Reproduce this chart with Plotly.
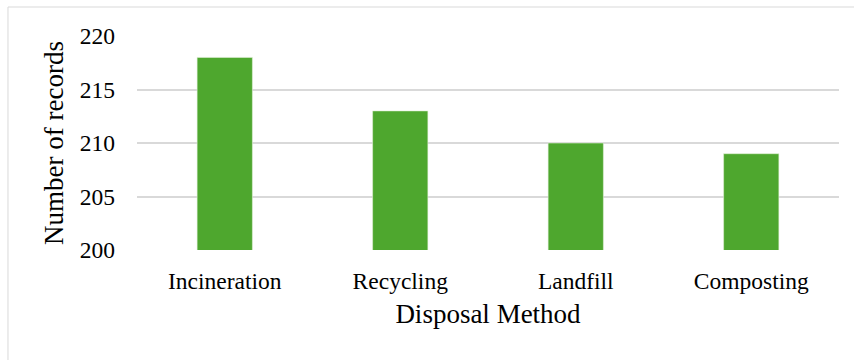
import plotly.graph_objects as go

# Records per disposal method
methods = ["Incineration", "Recycling", "Landfill", "Composting"]
records = [218, 213, 210, 209]
y_ticks = [200, 205, 210, 215, 220]

FONT = "Liberation Serif, Times New Roman, serif"

fig = go.Figure(
    go.Bar(
        x=methods,
        y=records,
        marker=dict(color="#4EA72E", line=dict(color="#E2F0D9", width=0.6)),
        width=0.315,
    )
)

fig.update_layout(
    width=854,
    height=360,
    margin=dict(l=137, r=15, t=36, b=110),
    paper_bgcolor="white",
    plot_bgcolor="white",
    showlegend=False,
    font=dict(family=FONT, color="#000000", size=23.5),
    bargap=0.685,
    shapes=[
        dict(
            type="rect", xref="paper", yref="paper",
            x0=-0.1838, x1=1.5, y0=-1.0, y1=1.1355,
            line=dict(color="#D9D9D9", width=1), fillcolor="rgba(0,0,0,0)",
            layer="below",
        )
    ],
)

fig.update_yaxes(
    range=[200, 220],
    tickvals=y_ticks,
    showgrid=True,
    gridcolor="#D9D9D9",
    gridwidth=1.5,
    zeroline=False,
    showline=False,
    ticks="",
    ticklabelstandoff=21,
    tickfont=dict(size=23.5, family=FONT),
    title=dict(text="Number of records", font=dict(size=27, family=FONT), standoff=8),
)

fig.update_xaxes(
    showgrid=False,
    showline=False,
    ticks="",
    ticklabelstandoff=14,
    tickfont=dict(size=23.5, family=FONT),
    title=dict(text="Disposal Method", font=dict(size=27, family=FONT), standoff=11),
)

fig.write_html("out.html")
